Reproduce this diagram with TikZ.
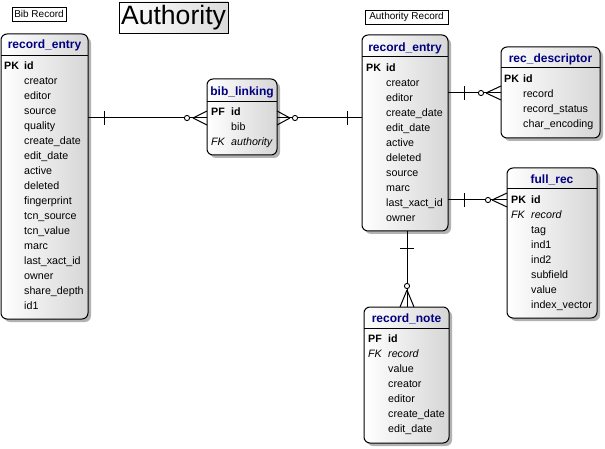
\documentclass[tikz,border=0pt]{standalone}
\usepackage{fontspec}
\setmainfont{Liberation Sans}
\usetikzlibrary{shadows}
\definecolor{hdr}{RGB}{0,0,128}
\tikzset{
  ent/.style={draw=black, line width=1pt, rounded corners=6pt, inner sep=0pt, outer sep=0pt,
    left color=white, right color=black!16,
    general shadow={fill=black!30, shadow xshift=3pt, shadow yshift=-3pt}},
  hdrtxt/.style={font=\fontsize{12}{14}\selectfont\bfseries, text=hdr, inner sep=0pt, text height=8.6pt, text depth=0pt},
  row/.style={font=\fontsize{10.7}{12}\selectfont, anchor=west, inner sep=0pt, text height=7.8pt, text depth=0pt},
  keyrow/.style={row, font=\fontsize{10.7}{12}\selectfont\bfseries},
  fkrow/.style={row, font=\fontsize{10.7}{12}\selectfont\itshape},
  sepline/.style={line width=1pt},
  conn/.style={line width=1pt},
  zero/.style={line width=0.9pt, fill=white},
  lbl/.style={draw=black, line width=0.8pt, inner sep=0pt, font=\fontsize{10}{12}\selectfont, fill=white},
}
\begin{document}
\begin{tikzpicture}[x=1pt,y=-1pt]
\useasboundingbox (0,0) rectangle (605,449);

% labels
\node[lbl, minimum width=54pt, minimum height=14pt] (biblbl) at (39,14) {Bib Record};
\node[draw=black, line width=0.8pt, inner sep=0pt, left color=white, right color=black!14,
  minimum width=109pt, minimum height=31pt, font=\fontsize{26.6}{30}\selectfont] (title) at (173.5,17.5) {Authority};
\node[lbl, minimum width=83pt, minimum height=14pt] (authlbl) at (406.5,17) {Authority Record};

% ---------- left record_entry ----------
\node[ent, minimum width=87pt, minimum height=285pt] (bre) at (44.5,176.5) {};
\node[hdrtxt] (bre-h) at (44.5,44) {record\_entry};
\draw[sepline] (1,56) -- (88,56);
\node[keyrow] (bre-pk) at (4,66) {PK};
\node[keyrow] (bre-id) at (24,66) {id};
\foreach \t [count=\i] in {creator,editor,source,quality,create\_date,edit\_date,active,deleted,fingerprint,tcn\_source,tcn\_value,marc,last\_xact\_id,owner,share\_depth,id1}
  \node[row] (bre-\i) at (24,{66+15*\i}) {\t};

% ---------- bib_linking ----------
\node[ent, minimum width=70pt, minimum height=76pt] (bl) at (242,117) {};
\node[hdrtxt] (bl-h) at (242,91) {bib\_linking};
\draw[sepline] (207,102) -- (277,102);
\node[keyrow] (bl-pf) at (211,112) {PF};
\node[keyrow] (bl-id) at (231,112) {id};
\node[row] (bl-bib) at (231,127) {bib};
\node[fkrow] (bl-fk) at (211,142) {FK};
\node[fkrow] (bl-auth) at (231,142) {authority};

% ---------- authority record_entry ----------
\node[ent, minimum width=86pt, minimum height=196pt] (are) at (405,133) {};
\node[hdrtxt] (are-h) at (405,47) {record\_entry};
\draw[sepline] (362,57) -- (448,57);
\node[keyrow] (are-pk) at (366,68) {PK};
\node[keyrow] (are-id) at (386,68) {id};
\foreach \t [count=\i] in {creator,editor,create\_date,edit\_date,active,deleted,source,marc,last\_xact\_id,owner}
  \node[row] (are-\i) at (386,{68+15*\i}) {\t};

% ---------- rec_descriptor ----------
\node[ent, minimum width=99pt, minimum height=91pt] (rd) at (550.5,92.5) {};
\node[hdrtxt] (rd-h) at (550.5,58) {rec\_descriptor};
\draw[sepline] (501,68) -- (600,68);
\node[keyrow] (rd-pk) at (504,79) {PK};
\node[keyrow] (rd-id) at (523,79) {id};
\foreach \t [count=\i] in {record,record\_status,char\_encoding}
  \node[row] (rd-\i) at (523,{79+15*\i}) {\t};

% ---------- full_rec ----------
\node[ent, minimum width=90pt, minimum height=150pt] (fr) at (552,243) {};
\node[hdrtxt] (fr-h) at (552,179) {full\_rec};
\draw[sepline] (507,189) -- (597,189);
\node[keyrow] (fr-pk) at (511,200) {PK};
\node[keyrow] (fr-id) at (531,200) {id};
\node[fkrow] (fr-fk) at (511,215) {FK};
\node[fkrow] (fr-rec) at (531,215) {record};
\foreach \t [count=\i] in {tag,ind1,ind2,subfield,value,index\_vector}
  \node[row] (fr-\i) at (531,{215+15*\i}) {\t};

% ---------- record_note ----------
\node[ent, minimum width=85pt, minimum height=136pt] (rn) at (406.5,375) {};
\node[hdrtxt] (rn-h) at (406.5,318) {record\_note};
\draw[sepline] (364,328) -- (449,328);
\node[keyrow] (rn-pf) at (368,339) {PF};
\node[keyrow] (rn-id) at (388,339) {id};
\node[fkrow] (rn-fk) at (368,354) {FK};
\node[fkrow] (rn-rec) at (388,354) {record};
\foreach \t [count=\i] in {value,creator,editor,create\_date,edit\_date}
  \node[row] (rn-\i) at (388,{354+15*\i}) {\t};

% ---------- connectors ----------
\coordinate (y1) at (0,118);
\coordinate (y3) at (0,93);
\coordinate (y4) at (0,200);
\coordinate (x5) at (407,0);

% record_entry -> bib_linking
\draw[conn] (bre.east |- y1) -- (bl.west |- y1);
\draw[conn] (104,111) -- (104,125);
\draw[conn] (193,118) -- (207,111) (193,118) -- (207,125);
\draw[zero] (187,118) circle[radius=2.6];

% bib_linking -> authority record_entry
\draw[conn] (bl.east |- y1) -- (are.west |- y1);
\draw[conn] (290,118) -- (277,111) (290,118) -- (277,125);
\draw[zero] (295,118) circle[radius=2.6];
\draw[conn] (347,111) -- (347,125);

% record_entry -> rec_descriptor
\draw[conn] (are.east |- y3) -- (rd.west |- y3);
\draw[conn] (464,86) -- (464,100);
\draw[conn] (486,93) -- (501,86) (486,93) -- (501,100);
\draw[zero] (481,93) circle[radius=2.6];

% record_entry -> full_rec
\draw[conn] (are.east |- y4) -- (fr.west |- y4);
\draw[conn] (464,193) -- (464,207);
\draw[conn] (492,200) -- (507,193) (492,200) -- (507,207);
\draw[zero] (488,200) circle[radius=2.6];

% record_entry -> record_note
\draw[conn] (are.south -| x5) -- (rn.north -| x5);
\draw[conn] (400,248) -- (414,248);
\draw[conn] (407,290) -- (400,307) (407,290) -- (414,307);
\draw[zero] (407,286) circle[radius=2.6];
\end{tikzpicture}
\end{document}
